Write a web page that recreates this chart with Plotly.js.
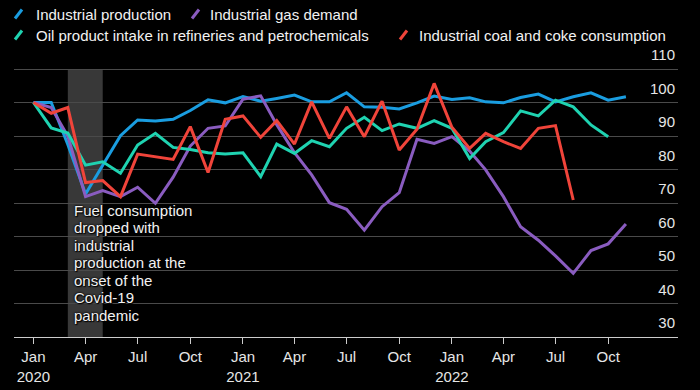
<!DOCTYPE html>
<html>
<head>
<meta charset="utf-8">
<script src="https://cdn.plot.ly/plotly-3.0.1.min.js"></script>
<style>
  html, body { margin: 0; padding: 0; background: #000; }
  #chart { width: 700px; height: 390px; }
</style>
</head>
<body>
<div id="chart"></div>
<script>
// ---- Data (monthly index, Jan 2020 = 100) ----
const months = [
  '2020-01-01','2020-02-01','2020-03-01','2020-04-01','2020-05-01','2020-06-01',
  '2020-07-01','2020-08-01','2020-09-01','2020-10-01','2020-11-01','2020-12-01',
  '2021-01-01','2021-02-01','2021-03-01','2021-04-01','2021-05-01','2021-06-01',
  '2021-07-01','2021-08-01','2021-09-01','2021-10-01','2021-11-01','2021-12-01',
  '2022-01-01','2022-02-01','2022-03-01','2022-04-01','2022-05-01','2022-06-01',
  '2022-07-01','2022-08-01','2022-09-01','2022-10-01','2022-11-01'
];

const industrialProduction = [
  100, 100, 87.5, 72.7, 81.3, 90.1, 94.8, 94.5, 95.0, 97.6, 100.8, 99.9,
  101.8, 100.4, 101.2, 102.2, 100.2, 100.2, 102.9, 98.7, 98.6, 98.1, 99.9, 101.9,
  100.9, 101.4, 100.2, 99.9, 101.5, 102.5, 100.2, 101.7, 102.9, 100.7, 101.7
];

const industrialGasDemand = [
  100, 98.5, 90.0, 71.9, 73.7, 71.9, 74.7, 69.9, 77.7, 87.0, 92.3, 93.0,
  101.0, 102.0, 93.4, 85.0, 78.4, 70.1, 68.1, 61.9, 68.9, 73.1, 89.0, 87.8,
  89.8, 85.5, 79.9, 71.9, 62.9, 58.9, 54.2, 49.0, 55.8, 57.8, 63.7
];

const oilProductIntake = [
  100, 92.4, 90.9, 81.3, 82.3, 78.9, 87.3, 90.8, 86.6, 86.0, 85.0, 84.6,
  85.0, 77.9, 87.6, 84.8, 88.6, 86.8, 92.3, 95.6, 91.6, 93.6, 92.3, 94.6,
  92.3, 83.3, 88.3, 91.0, 97.5, 96.0, 100.7, 98.7, 93.3, 89.8
];

const coalCokeConsumption = [
  100, 96.8, 98.5, 76.1, 76.7, 71.9, 84.6, 83.8, 83.0, 92.8, 79.1, 95.0,
  96.0, 89.6, 94.6, 87.6, 100.2, 89.3, 98.7, 89.8, 100.4, 85.8, 92.0, 105.7,
  92.6, 86.3, 90.8, 88.3, 86.3, 92.3, 93.1, 70.9
];

const seriesNames = [
  'Industrial production',
  'Industrial gas demand',
  'Oil product intake in refineries and petrochemicals',
  'Industrial coal and coke consumption'
];

const xTickVals = [
  '2020-01-01','2020-04-01','2020-07-01','2020-10-01',
  '2021-01-01','2021-04-01','2021-07-01','2021-10-01',
  '2022-01-01','2022-04-01','2022-07-01','2022-10-01'
];
const xTickText = [
  'Jan<br>2020','Apr','Jul','Oct',
  'Jan<br>2021','Apr','Jul','Oct',
  'Jan<br>2022','Apr','Jul','Oct'
];

const covidBand = ['2020-03-01', '2020-05-01'];
const noteLines = [
  'Fuel consumption', 'dropped with', 'industrial',
  'production at the', 'onset of the', 'Covid-19', 'pandemic'
];

// ---- Styling ----
const colors = ['#1a9de0', '#8a5cc0', '#1fd3b1', '#f0443a'];
const FONT = 'Liberation Sans, Arial, Helvetica, sans-serif';

// plot-area geometry in pixels
const W = 700, H = 390;
const M = { l: 14, r: 22, t: 67, b: 53 };
const pw = W - M.l - M.r, ph = H - M.t - M.b;
const px = x => (x - M.l) / pw;
const py = y => (H - M.b - y) / ph;

const seriesData = [industrialProduction, industrialGasDemand, oilProductIntake, coalCokeConsumption];
const traces = seriesData.map((vals, i) => ({
  type: 'scatter',
  mode: 'lines',
  name: seriesNames[i],
  x: months.slice(0, vals.length),
  y: vals,
  line: { color: colors[i], width: 3, shape: 'linear' },
  hoverinfo: 'skip'
}));

// custom legend
const legendItems = [
  { i: 0, iconX: 15, textX: 34, y: 14 },
  { i: 1, iconX: 192, textX: 208, y: 14 },
  { i: 2, iconX: 15, textX: 34, y: 35 },
  { i: 3, iconX: 400, textX: 417, y: 35 }
];

const shapes = [
  {
    type: 'rect', xref: 'x', yref: 'y',
    x0: covidBand[0], x1: covidBand[1], y0: 30, y1: 110,
    fillcolor: '#383838', line: { width: 0 }, layer: 'below'
  }
];
const annotations = [];

legendItems.forEach(it => {
  shapes.push({
    type: 'line', xref: 'paper', yref: 'paper',
    x0: px(it.iconX), y0: py(it.y + 4.5),
    x1: px(it.iconX + 7), y1: py(it.y - 4.5),
    line: { color: colors[it.i], width: 3 }
  });
  annotations.push({
    xref: 'paper', yref: 'paper',
    x: px(it.textX), y: py(it.y),
    xanchor: 'left', yanchor: 'middle',
    text: seriesNames[it.i], showarrow: false,
    font: { family: FONT, size: 15, color: '#f2f2f2' }
  });
});

noteLines.forEach((t, k) => {
  annotations.push({
    xref: 'paper', yref: 'paper',
    x: px(72), y: py(210 + 17.5 * k),
    xanchor: 'left', yanchor: 'middle',
    text: t, showarrow: false,
    font: { family: FONT, size: 15, color: '#f2f2f2',
            shadow: '0px 0px 2px #000, 0px 0px 2px #000, 1px 1px 1px #000' }
  });
});

const layout = {
  width: W, height: H,
  margin: M,
  paper_bgcolor: '#000',
  plot_bgcolor: '#000',
  showlegend: false,
  font: { family: FONT, size: 15, color: '#e6e6e6' },
  xaxis: {
    type: 'date',
    range: ['2019-11-28', '2023-01-31'],
    tickmode: 'array',
    tickvals: xTickVals,
    ticktext: xTickText,
    ticks: 'outside', ticklen: 6, tickwidth: 1, tickcolor: '#cccccc',
    showline: true, linecolor: '#cccccc', linewidth: 1,
    showgrid: false, zeroline: false,
    tickfont: { family: FONT, size: 15, color: '#e6e6e6' },
    fixedrange: true
  },
  yaxis: {
    range: [30, 110.6],
    tick0: 30, dtick: 10,
    side: 'right',
    ticklabelposition: 'inside',
    ticklabelshift: -14,
    ticklabeloverflow: 'allow',
    ticks: '',
    showgrid: true, gridcolor: '#4a4a4a', gridwidth: 1,
    zeroline: false, showline: false,
    tickfont: { family: FONT, size: 15, color: '#e6e6e6' },
    fixedrange: true
  },
  shapes: shapes,
  annotations: annotations
};

Plotly.newPlot('chart', traces, layout, { displayModeBar: false, staticPlot: true });
</script>
</body>
</html>
